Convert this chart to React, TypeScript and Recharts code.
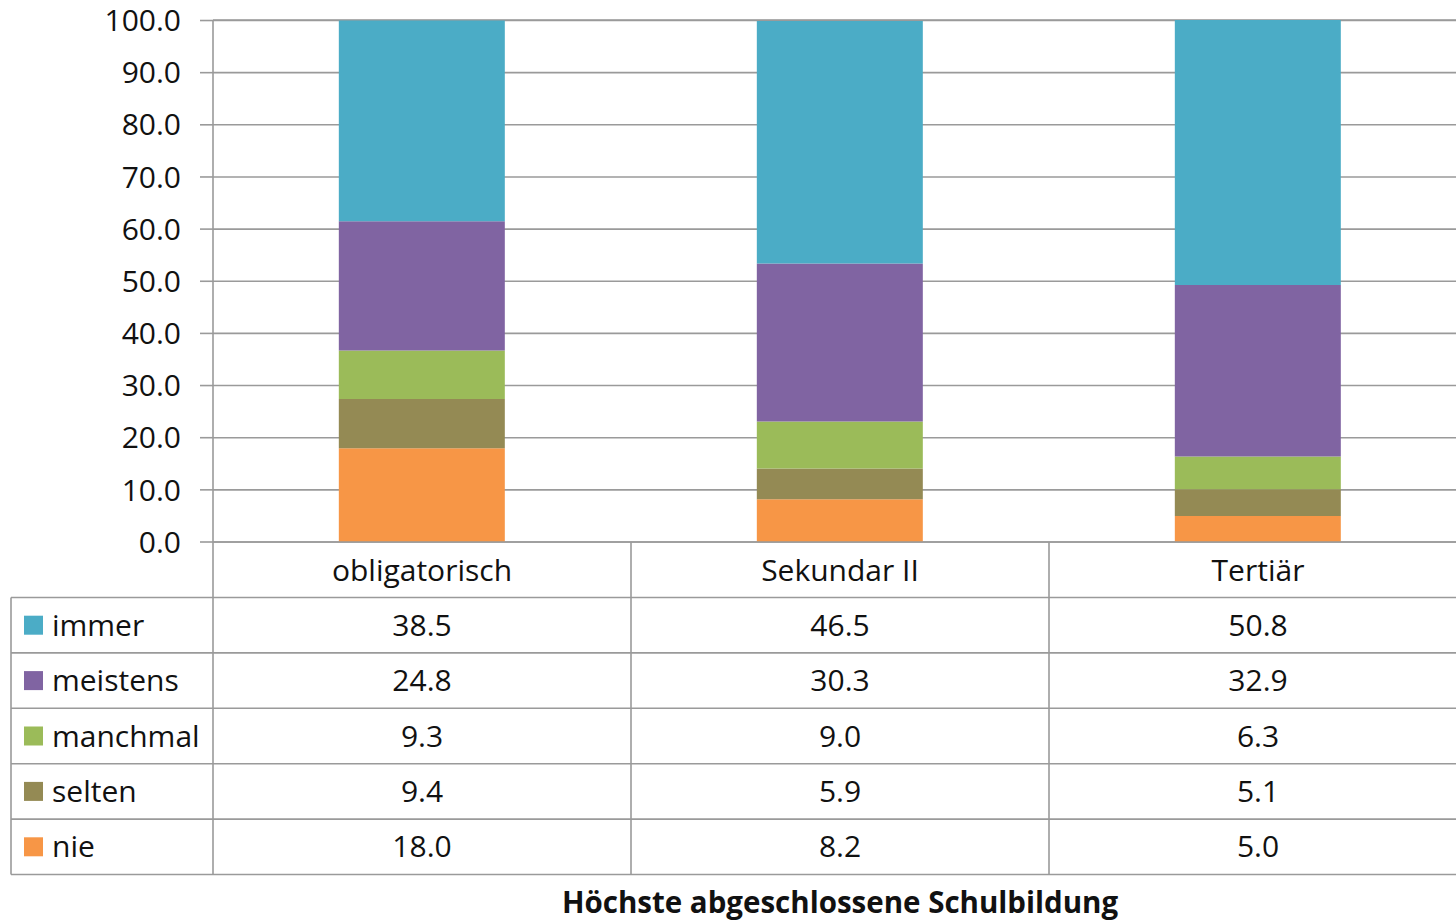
import React from 'react';
import { BarChart, Bar, XAxis, YAxis, CartesianGrid } from 'recharts';

const categories = ['obligatorisch', 'Sekundar II', 'Tertiär'];
const immer = [38.5, 46.5, 50.8];
const meistens = [24.8, 30.3, 32.9];
const manchmal = [9.3, 9.0, 6.3];
const selten = [9.4, 5.9, 5.1];
const nie = [18.0, 8.2, 5.0];
const yTicks = [0, 10, 20, 30, 40, 50, 60, 70, 80, 90, 100];
const axisTitle = 'Höchste abgeschlossene Schulbildung';

const seriesKeys = ['immer', 'meistens', 'manchmal', 'selten', 'nie'];
const seriesValues: Record<string, number[]> = { immer, meistens, manchmal, selten, nie };
const colors: Record<string, string> = {
  immer: '#4BACC6',
  meistens: '#8064A2',
  manchmal: '#9BBB59',
  selten: '#948A54',
  nie: '#F79646',
};

const data = categories.map((c, i) => ({
  name: c,
  immer: immer[i],
  meistens: meistens[i],
  manchmal: manchmal[i],
  selten: selten[i],
  nie: nie[i],
}));

const W = 1480;
const H = 923;
const PLOT_LEFT = 213;
const PLOT_TOP = 20;
const PLOT_BOTTOM = 542;
const PLOT_RIGHT = 1467;
const BAND = (PLOT_RIGHT - PLOT_LEFT) / categories.length;
const ROW_TOP = 597.5;
const ROW_H = 55.4;
const TABLE_LEFT = 11;
const FONT = '"Open Sans", "Noto Sans", sans-serif';
const GRID = '#9a9a9a';
const FS = 30;

const CatTick = (props: any) => {
  const { x, y, payload } = props;
  return (
    <text x={x} y={y + 28} dy="0.35em" textAnchor="middle" fontSize={FS} fill="#111" fontFamily={FONT}>
      {payload.value}
    </text>
  );
};

const Table = () => {
  const tableBottom = ROW_TOP + ROW_H * seriesKeys.length;
  const lines: React.ReactNode[] = [];
  for (let i = 0; i <= seriesKeys.length; i++) {
    const y = ROW_TOP + ROW_H * i;
    lines.push(<line key={'h' + i} x1={TABLE_LEFT} x2={W} y1={y} y2={y} stroke={GRID} strokeWidth={1.6} />);
  }
  lines.push(<line key="vl" x1={TABLE_LEFT} x2={TABLE_LEFT} y1={ROW_TOP} y2={tableBottom} stroke={GRID} strokeWidth={1.6} />);
  for (let c = 0; c <= categories.length; c++) {
    const x = PLOT_LEFT + BAND * c;
    lines.push(<line key={'v' + c} x1={x} x2={x} y1={PLOT_BOTTOM} y2={tableBottom} stroke={GRID} strokeWidth={1.6} />);
  }
  return (
    <svg width={W} height={H} style={{ position: 'absolute', left: 0, top: 0, pointerEvents: 'none' }}>
      {lines}
      {seriesKeys.map((k, r) => {
        const cy = ROW_TOP + ROW_H * r + ROW_H / 2;
        return (
          <g key={k}>
            <rect x={24} y={cy - 9.5} width={19} height={19} fill={colors[k]} />
            <text x={52} y={cy} dy="0.35em" fontSize={FS} fill="#111" fontFamily={FONT}>{k}</text>
            {seriesValues[k].map((v, c) => (
              <text key={c} x={PLOT_LEFT + BAND * c + BAND / 2} y={cy} dy="0.35em" textAnchor="middle" fontSize={FS} fill="#111" fontFamily={FONT}>
                {v.toFixed(1)}
              </text>
            ))}
          </g>
        );
      })}
      <text x={PLOT_LEFT + BAND * 1.5} y={903} dy="0.35em" textAnchor="middle" fontSize={29.5} fontWeight="bold" fill="#111" fontFamily={FONT}>
        {axisTitle}
      </text>
    </svg>
  );
};

export default function App() {
  return (
    <div style={{ position: 'fixed', left: 0, top: 0, width: 1456, height: 923, overflow: 'hidden', background: '#fff', fontFamily: FONT }}>
      <div style={{ position: 'relative', width: W, height: H }}>
        <BarChart
          width={W}
          height={H}
          data={data}
          margin={{ top: PLOT_TOP, right: W - PLOT_RIGHT, left: 0, bottom: H - PLOT_BOTTOM - 55 }}
          barCategoryGap="30.1%"
        >
          <CartesianGrid horizontal vertical={false} stroke={GRID} strokeWidth={1.6} />
          <XAxis
            dataKey="name"
            height={55}
            tickSize={0}
            tickMargin={0}
            tickLine={false}
            axisLine={{ stroke: GRID, strokeWidth: 1.6 }}
            tick={<CatTick />}
            interval={0}
          />
          <YAxis
            width={PLOT_LEFT}
            domain={[0, 100]}
            ticks={yTicks}
            interval={0}
            tickFormatter={(v: number) => v.toFixed(1)}
            tickSize={13}
            tickMargin={19}
            tickLine={{ stroke: GRID, strokeWidth: 1.6 }}
            axisLine={{ stroke: GRID, strokeWidth: 1.6 }}
            tick={{ fontSize: FS, fill: '#111', fontFamily: FONT }}
          />
          {['nie', 'selten', 'manchmal', 'meistens', 'immer'].map((k) => (
            <Bar key={k} dataKey={k} stackId="a" fill={colors[k]} isAnimationActive={false} />
          ))}
        </BarChart>
        <Table />
      </div>
    </div>
  );
}
